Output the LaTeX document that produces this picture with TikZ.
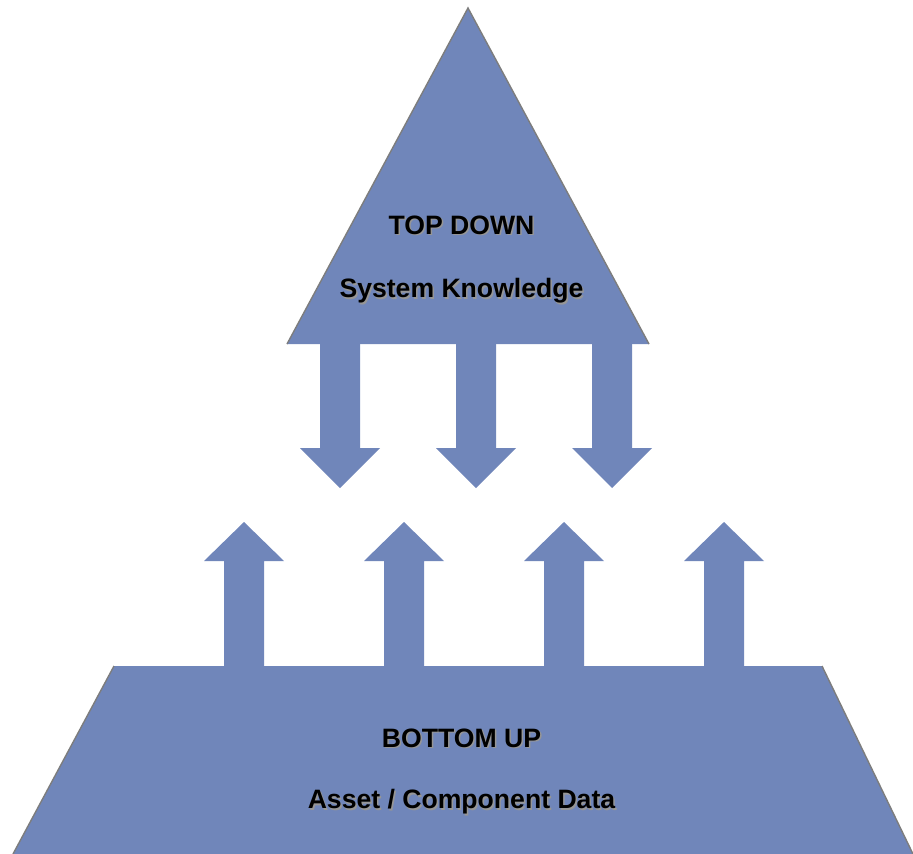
\documentclass[tikz,border=0pt]{standalone}
\usepackage{fontspec}
\setmainfont{Liberation Sans}
\begin{document}
\begin{tikzpicture}[x=1pt,y=-1pt,
  shapefill/.style={fill=pyrblue,draw=none},
  slant/.style={draw=edgegray,line width=1.4pt},
  label/.style={font=\bfseries\fontsize{26.6}{30}\selectfont,inner sep=0pt},
  shadowtext/.style={label,text=shadowgray}]
\definecolor{pyrblue}{RGB}{112,134,186}
\definecolor{edgegray}{RGB}{125,125,125}
\definecolor{shadowgray}{RGB}{150,150,150}
\useasboundingbox (0,0) rectangle (913,854);

% top triangle
\coordinate (apex) at (468,8);
\coordinate (tl) at (287,344);
\coordinate (tr) at (649,344);
\fill[shapefill] (apex) -- (tr) -- (tl) -- cycle;
\draw[slant] (tl) -- (apex) -- (tr);

% downward arrows below the triangle
\foreach \cx in {340,476,612}{
  \fill[shapefill] (\cx-20,343) -- (\cx+20,343) -- (\cx+20,448) -- (\cx+40,448)
    -- (\cx,488) -- (\cx-40,448) -- (\cx-20,448) -- cycle;
}

% bottom trapezoid
\coordinate (bl) at (13,854);
\coordinate (br) at (913,854);
\coordinate (ul) at (114,666);
\coordinate (ur) at (822,666);
\fill[shapefill] (bl) -- (ul) -- (ur) -- (br) -- cycle;
\draw[slant] (bl) -- (ul);
\draw[slant] (ur) -- (br);

% upward arrows above the trapezoid
\foreach \cx in {244,404,564,724}{
  \fill[shapefill] (\cx-20,667) -- (\cx+20,667) -- (\cx+20,561) -- (\cx+40,561)
    -- (\cx,522) -- (\cx-40,561) -- (\cx-20,561) -- cycle;
}

% labels with a soft drop shadow
\foreach \nm/\x/\y/\t in {td/461.5/225/{TOP DOWN},sk/461.5/291/{System Knowledge},
                          bu/461.5/738/{BOTTOM UP},ac/461.5/802/{Asset / Component Data}}{
  \node[shadowtext] at (\x+1.5,\y+1.5) {\t};
  \node[label] (\nm) at (\x,\y) {\t};
}
\end{tikzpicture}
\end{document}
